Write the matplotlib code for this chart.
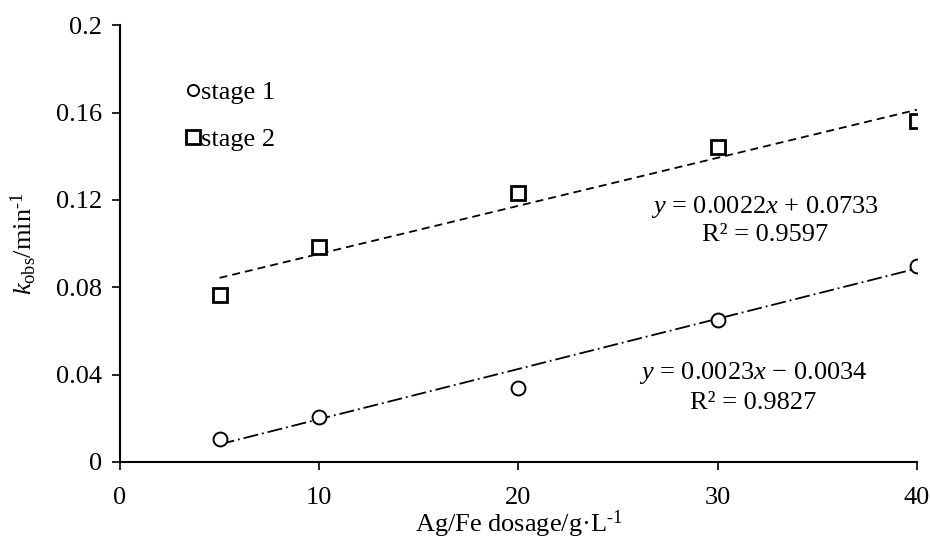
import matplotlib
matplotlib.use("Agg")
import matplotlib.pyplot as plt
import numpy as np

plt.rcParams["font.family"] = ["Liberation Serif", "DejaVu Serif"]
plt.rcParams["mathtext.fontset"] = "custom"
plt.rcParams["mathtext.rm"] = "Liberation Serif"
plt.rcParams["mathtext.it"] = "Liberation Serif:italic"

# Ag/Fe dosage (g/L) and observed rate constants
dosage = [5, 10, 20, 30, 40]
stage1 = [0.0105, 0.0206, 0.0337, 0.065, 0.0897]
stage2 = [0.0764, 0.0984, 0.1233, 0.1442, 0.156]

# linear fits as printed on the chart
fit1 = (0.0023, -0.0034, 0.9827)
fit2 = (0.0022, 0.0733, 0.9597)

fs = 19
fig, ax = plt.subplots(figsize=(9.3, 5.48), dpi=100)
fig.subplots_adjust(left=0.129, right=0.986, top=0.954, bottom=0.157)

xf = np.array([dosage[0], dosage[-1]])
ax.plot(xf, fit2[0] * xf + fit2[1], color="black", lw=1.3, ls=(0, (4.4, 2.8)))
ax.plot(xf, fit1[0] * xf + fit1[1], color="black", lw=1.3, ls=(0, (8.3, 2.2, 1, 2.2)))

ax.plot(dosage, stage1, ls="none", marker="o", ms=10, mfc="white", mec="black",
        mew=1.4, label="stage 1")
ax.plot(dosage, stage2, ls="none", marker="s", ms=10, mfc="white", mec="black",
        mew=2.0, label="stage 2")

ax.text(0.809, 0.584, "$y$ = %.4f$x$ + %.4f" % (fit2[0], fit2[1]), transform=ax.transAxes,
        ha="center", va="center", fontsize=fs)
ax.text(0.809, 0.519, "R² = %.4f" % fit2[2], transform=ax.transAxes,
        ha="center", va="center", fontsize=fs)
ax.text(0.795, 0.204, "$y$ = %.4f$x$ − %.4f" % (fit1[0], -fit1[1]), transform=ax.transAxes,
        ha="center", va="center", fontsize=fs)
ax.text(0.795, 0.135, "R² = %.4f" % fit1[2], transform=ax.transAxes,
        ha="center", va="center", fontsize=fs)

leg = ax.legend(loc="upper left", bbox_to_anchor=(0.07, 0.898), frameon=False, fontsize=fs,
                handlelength=0.5, handletextpad=0.05, labelspacing=0.9, borderaxespad=0)
leg.legend_handles[0].set_markersize(8)
leg.legend_handles[1].set_markersize(10)

ax.set_xlim(0, 40)
ax.set_ylim(0, 0.2)
ax.set_xticks([0, 10, 20, 30, 40])
ax.set_yticks([0, 0.04, 0.08, 0.12, 0.16, 0.2])
ax.set_yticklabels(["0", "0.04", "0.08", "0.12", "0.16", "0.2"])
ax.tick_params(labelsize=fs, width=1.2, length=6, direction="out", pad=7)
ax.tick_params(axis="x", pad=12)
for s in ["top", "right"]:
    ax.spines[s].set_visible(False)
for s in ["left", "bottom"]:
    ax.spines[s].set_linewidth(1.5)

ax.set_xlabel("Ag/Fe dosage/g·L$^{\\text{-1}}$", fontsize=fs, labelpad=0)
ax.set_ylabel("$k_{\\mathrm{obs}}$/min$^{\\text{-1}}$", fontsize=fs, labelpad=12)

fig.savefig("out.png", dpi=100)
